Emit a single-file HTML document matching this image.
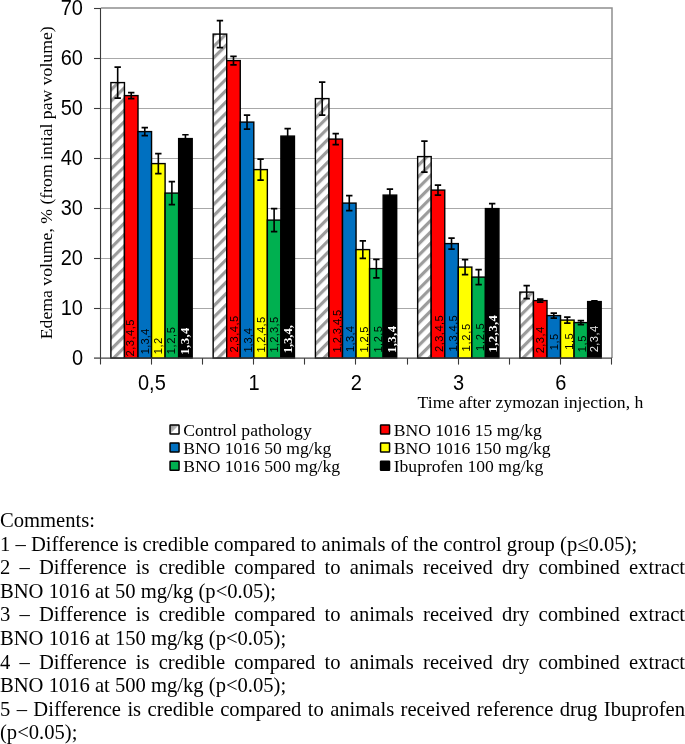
<!DOCTYPE html>
<html><head><meta charset="utf-8"><style>
html,body{margin:0;padding:0;background:#fff;}
body{width:685px;height:744px;position:relative;overflow:hidden;}
.ln{position:absolute;left:0;width:685px;font-family:"Liberation Serif",serif;font-size:20.6px;line-height:20px;height:20px;white-space:nowrap;color:#000;}
.ln.j{text-align:justify;text-align-last:justify;white-space:normal;}
.ln,svg{will-change:transform;}
</style></head><body>
<svg width="685" height="420" viewBox="0 0 685 420" style="position:absolute;left:0;top:0"><defs><pattern id="hatch0" patternUnits="userSpaceOnUse" width="7.98" height="7.98" patternTransform="translate(0,6.81) rotate(45)"><rect width="7.98" height="7.98" fill="#fff"/><rect x="0" y="0" width="3.2" height="7.98" fill="#9c9c9c"/></pattern><pattern id="hatch1" patternUnits="userSpaceOnUse" width="7.98" height="7.98" patternTransform="translate(0,9.64) rotate(45)"><rect width="7.98" height="7.98" fill="#fff"/><rect x="0" y="0" width="3.2" height="7.98" fill="#9c9c9c"/></pattern><pattern id="hatch2" patternUnits="userSpaceOnUse" width="7.98" height="7.98" patternTransform="translate(0,2.48) rotate(45)"><rect width="7.98" height="7.98" fill="#fff"/><rect x="0" y="0" width="3.2" height="7.98" fill="#9c9c9c"/></pattern><pattern id="hatch3" patternUnits="userSpaceOnUse" width="7.98" height="7.98" patternTransform="translate(0,5.91) rotate(45)"><rect width="7.98" height="7.98" fill="#fff"/><rect x="0" y="0" width="3.2" height="7.98" fill="#9c9c9c"/></pattern><pattern id="hatch4" patternUnits="userSpaceOnUse" width="7.98" height="7.98" patternTransform="translate(0,9.83) rotate(45)"><rect width="7.98" height="7.98" fill="#fff"/><rect x="0" y="0" width="3.2" height="7.98" fill="#9c9c9c"/></pattern></defs><line x1="100.75" y1="308.5" x2="612.0" y2="308.5" stroke="#a8a8a8" stroke-width="1"/><line x1="100.75" y1="258.5" x2="612.0" y2="258.5" stroke="#a8a8a8" stroke-width="1"/><line x1="100.75" y1="208.5" x2="612.0" y2="208.5" stroke="#a8a8a8" stroke-width="1"/><line x1="100.75" y1="158.5" x2="612.0" y2="158.5" stroke="#a8a8a8" stroke-width="1"/><line x1="100.75" y1="108.5" x2="612.0" y2="108.5" stroke="#a8a8a8" stroke-width="1"/><line x1="100.75" y1="58.5" x2="612.0" y2="58.5" stroke="#a8a8a8" stroke-width="1"/><path d="M100.75 8.1H612.0V358.1" stroke="#8f8f8f" stroke-width="1.5" fill="none"/><rect x="110.90" y="82.60" width="13.55" height="275.50" fill="url(#hatch0)" stroke="#000" stroke-width="1.4"/><rect x="124.45" y="95.60" width="13.55" height="262.50" fill="#ff0000" stroke="#000" stroke-width="1.4"/><rect x="138.00" y="131.60" width="13.55" height="226.50" fill="#0070c0" stroke="#000" stroke-width="1.4"/><rect x="151.55" y="163.60" width="13.55" height="194.50" fill="#ffff00" stroke="#000" stroke-width="1.4"/><rect x="165.10" y="193.10" width="13.55" height="165.00" fill="#00b050" stroke="#000" stroke-width="1.4"/><rect x="178.65" y="138.60" width="13.55" height="219.50" fill="#000000" stroke="#000" stroke-width="1.4"/><rect x="213.15" y="34.10" width="13.55" height="324.00" fill="url(#hatch1)" stroke="#000" stroke-width="1.4"/><rect x="226.70" y="60.60" width="13.55" height="297.50" fill="#ff0000" stroke="#000" stroke-width="1.4"/><rect x="240.25" y="122.10" width="13.55" height="236.00" fill="#0070c0" stroke="#000" stroke-width="1.4"/><rect x="253.80" y="169.60" width="13.55" height="188.50" fill="#ffff00" stroke="#000" stroke-width="1.4"/><rect x="267.35" y="220.10" width="13.55" height="138.00" fill="#00b050" stroke="#000" stroke-width="1.4"/><rect x="280.90" y="136.10" width="13.55" height="222.00" fill="#000000" stroke="#000" stroke-width="1.4"/><rect x="315.40" y="98.60" width="13.55" height="259.50" fill="url(#hatch2)" stroke="#000" stroke-width="1.4"/><rect x="328.95" y="139.10" width="13.55" height="219.00" fill="#ff0000" stroke="#000" stroke-width="1.4"/><rect x="342.50" y="203.10" width="13.55" height="155.00" fill="#0070c0" stroke="#000" stroke-width="1.4"/><rect x="356.05" y="249.60" width="13.55" height="108.50" fill="#ffff00" stroke="#000" stroke-width="1.4"/><rect x="369.60" y="268.60" width="13.55" height="89.50" fill="#00b050" stroke="#000" stroke-width="1.4"/><rect x="383.15" y="195.10" width="13.55" height="163.00" fill="#000000" stroke="#000" stroke-width="1.4"/><rect x="417.65" y="156.60" width="13.55" height="201.50" fill="url(#hatch3)" stroke="#000" stroke-width="1.4"/><rect x="431.20" y="190.10" width="13.55" height="168.00" fill="#ff0000" stroke="#000" stroke-width="1.4"/><rect x="444.75" y="243.60" width="13.55" height="114.50" fill="#0070c0" stroke="#000" stroke-width="1.4"/><rect x="458.30" y="267.10" width="13.55" height="91.00" fill="#ffff00" stroke="#000" stroke-width="1.4"/><rect x="471.85" y="277.10" width="13.55" height="81.00" fill="#00b050" stroke="#000" stroke-width="1.4"/><rect x="485.40" y="208.60" width="13.55" height="149.50" fill="#000000" stroke="#000" stroke-width="1.4"/><rect x="519.90" y="292.10" width="13.55" height="66.00" fill="url(#hatch4)" stroke="#000" stroke-width="1.4"/><rect x="533.45" y="300.60" width="13.55" height="57.50" fill="#ff0000" stroke="#000" stroke-width="1.4"/><rect x="547.00" y="315.60" width="13.55" height="42.50" fill="#0070c0" stroke="#000" stroke-width="1.4"/><rect x="560.55" y="320.10" width="13.55" height="38.00" fill="#ffff00" stroke="#000" stroke-width="1.4"/><rect x="574.10" y="322.60" width="13.55" height="35.50" fill="#00b050" stroke="#000" stroke-width="1.4"/><rect x="587.65" y="301.60" width="13.55" height="56.50" fill="#000000" stroke="#000" stroke-width="1.4"/><text transform="translate(133.80,356.40) rotate(-90)" font-family="Liberation Sans" font-weight="normal" font-size="11.2" letter-spacing="0.43" fill="#000">2,3,4,5</text><text transform="translate(148.60,354.20) rotate(-90)" font-family="Liberation Sans" font-weight="normal" font-size="11.2" letter-spacing="0.15" fill="#000">1,3,4</text><text transform="translate(161.80,354.20) rotate(-90)" font-family="Liberation Sans" font-weight="normal" font-size="11.2" letter-spacing="0.4" fill="#000">1,2</text><text transform="translate(174.90,354.20) rotate(-90)" font-family="Liberation Sans" font-weight="normal" font-size="11.2" letter-spacing="0.55" fill="#000">1,2,5</text><text transform="translate(189.10,354.70) rotate(-90)" font-family="Liberation Serif" font-weight="bold" font-size="12.7" letter-spacing="0.42" fill="#fff">1,3,4</text><text transform="translate(237.90,352.60) rotate(-90)" font-family="Liberation Sans" font-weight="normal" font-size="11.2" letter-spacing="0.43" fill="#000">2,3,4,5</text><text transform="translate(251.60,352.60) rotate(-90)" font-family="Liberation Sans" font-weight="normal" font-size="11.2" letter-spacing="-0.1" fill="#000">1,3,4</text><text transform="translate(265.30,352.60) rotate(-90)" font-family="Liberation Sans" font-weight="normal" font-size="11.2" letter-spacing="0.25" fill="#000">1,2,4,5</text><text transform="translate(277.90,352.60) rotate(-90)" font-family="Liberation Sans" font-weight="normal" font-size="11.2" letter-spacing="0.25" fill="#000">1,2,3,5</text><text transform="translate(292.10,353.20) rotate(-90)" font-family="Liberation Serif" font-weight="bold" font-size="12.7" letter-spacing="-0.1" fill="#fff">1,3,4,</text><text transform="translate(341.00,352.50) rotate(-90)" font-family="Liberation Sans" font-weight="normal" font-size="11.2" letter-spacing="-0.1" fill="#000">1,2,3,4,5</text><text transform="translate(353.60,352.00) rotate(-90)" font-family="Liberation Sans" font-weight="normal" font-size="11.2" letter-spacing="0.28" fill="#000">1,3,4</text><text transform="translate(367.80,352.50) rotate(-90)" font-family="Liberation Sans" font-weight="normal" font-size="11.2" letter-spacing="0.28" fill="#000">1,2,5</text><text transform="translate(382.10,352.50) rotate(-90)" font-family="Liberation Sans" font-weight="normal" font-size="11.2" letter-spacing="0.4" fill="#000">1,2,5</text><text transform="translate(395.80,353.10) rotate(-90)" font-family="Liberation Serif" font-weight="bold" font-size="12.7" letter-spacing="0.43" fill="#fff">1,3,4</text><text transform="translate(442.90,352.00) rotate(-90)" font-family="Liberation Sans" font-weight="normal" font-size="11.2" letter-spacing="0.43" fill="#000">2,3,4,5</text><text transform="translate(456.60,351.40) rotate(-90)" font-family="Liberation Sans" font-weight="normal" font-size="11.2" letter-spacing="0.33" fill="#000">1,3,4,5</text><text transform="translate(469.80,351.40) rotate(-90)" font-family="Liberation Sans" font-weight="normal" font-size="11.2" letter-spacing="0.67" fill="#000">1,2,5</text><text transform="translate(484.00,350.90) rotate(-90)" font-family="Liberation Sans" font-weight="normal" font-size="11.2" letter-spacing="0.67" fill="#000">1,2,5</text><text transform="translate(497.10,352.50) rotate(-90)" font-family="Liberation Serif" font-weight="bold" font-size="12.7" letter-spacing="0.42" fill="#fff">1,2,3,4</text><text transform="translate(544.10,353.30) rotate(-90)" font-family="Liberation Sans" font-weight="normal" font-size="11.2" letter-spacing="0.38" fill="#000">2,3,4</text><text transform="translate(558.40,350.20) rotate(-90)" font-family="Liberation Sans" font-weight="normal" font-size="11.2" letter-spacing="0.4" fill="#000">1,5</text><text transform="translate(572.70,349.70) rotate(-90)" font-family="Liberation Sans" font-weight="normal" font-size="11.2" letter-spacing="0.4" fill="#000">1,5</text><text transform="translate(586.00,352.30) rotate(-90)" font-family="Liberation Sans" font-weight="normal" font-size="11.2" letter-spacing="0.65" fill="#000">1,5</text><text transform="translate(597.70,352.30) rotate(-90)" font-family="Liberation Sans" font-weight="normal" font-size="11.2" letter-spacing="0.38" fill="#e8e8e8">2,3,4</text><path d="M117.68 67.10V98.10M114.48 67.10H120.88M114.48 98.10H120.88" stroke="#000" stroke-width="1.6" fill="none"/><path d="M131.22 92.60V98.60M128.03 92.60H134.42M128.03 98.60H134.42" stroke="#000" stroke-width="1.6" fill="none"/><path d="M144.78 127.60V135.60M141.58 127.60H147.97M141.58 135.60H147.97" stroke="#000" stroke-width="1.6" fill="none"/><path d="M158.33 153.60V173.60M155.13 153.60H161.53M155.13 173.60H161.53" stroke="#000" stroke-width="1.6" fill="none"/><path d="M171.88 181.60V204.60M168.68 181.60H175.08M168.68 204.60H175.08" stroke="#000" stroke-width="1.6" fill="none"/><path d="M185.43 134.80V142.40M182.23 134.80H188.62M182.23 142.40H188.62" stroke="#000" stroke-width="1.6" fill="none"/><path d="M219.93 20.60V47.60M216.73 20.60H223.12M216.73 47.60H223.12" stroke="#000" stroke-width="1.6" fill="none"/><path d="M233.48 56.35V64.85M230.28 56.35H236.68M230.28 64.85H236.68" stroke="#000" stroke-width="1.6" fill="none"/><path d="M247.03 115.10V129.10M243.83 115.10H250.22M243.83 129.10H250.22" stroke="#000" stroke-width="1.6" fill="none"/><path d="M260.57 159.10V180.10M257.38 159.10H263.77M257.38 180.10H263.77" stroke="#000" stroke-width="1.6" fill="none"/><path d="M274.12 208.60V231.60M270.93 208.60H277.32M270.93 231.60H277.32" stroke="#000" stroke-width="1.6" fill="none"/><path d="M287.67 128.60V143.60M284.47 128.60H290.87M284.47 143.60H290.87" stroke="#000" stroke-width="1.6" fill="none"/><path d="M322.17 82.10V115.10M318.97 82.10H325.37M318.97 115.10H325.37" stroke="#000" stroke-width="1.6" fill="none"/><path d="M335.72 133.60V144.60M332.52 133.60H338.92M332.52 144.60H338.92" stroke="#000" stroke-width="1.6" fill="none"/><path d="M349.27 195.60V210.60M346.07 195.60H352.47M346.07 210.60H352.47" stroke="#000" stroke-width="1.6" fill="none"/><path d="M362.82 240.85V258.35M359.62 240.85H366.02M359.62 258.35H366.02" stroke="#000" stroke-width="1.6" fill="none"/><path d="M376.37 259.35V277.85M373.17 259.35H379.57M373.17 277.85H379.57" stroke="#000" stroke-width="1.6" fill="none"/><path d="M389.92 189.10V201.10M386.72 189.10H393.12M386.72 201.10H393.12" stroke="#000" stroke-width="1.6" fill="none"/><path d="M424.42 141.10V172.10M421.22 141.10H427.62M421.22 172.10H427.62" stroke="#000" stroke-width="1.6" fill="none"/><path d="M437.97 185.10V195.10M434.77 185.10H441.17M434.77 195.10H441.17" stroke="#000" stroke-width="1.6" fill="none"/><path d="M451.52 238.10V249.10M448.32 238.10H454.72M448.32 249.10H454.72" stroke="#000" stroke-width="1.6" fill="none"/><path d="M465.07 259.60V274.60M461.87 259.60H468.27M461.87 274.60H468.27" stroke="#000" stroke-width="1.6" fill="none"/><path d="M478.62 269.60V284.60M475.42 269.60H481.82M475.42 284.60H481.82" stroke="#000" stroke-width="1.6" fill="none"/><path d="M492.17 203.60V213.60M488.97 203.60H495.37M488.97 213.60H495.37" stroke="#000" stroke-width="1.6" fill="none"/><path d="M526.67 285.60V298.60M523.47 285.60H529.88M523.47 298.60H529.88" stroke="#000" stroke-width="1.6" fill="none"/><path d="M540.22 299.10V302.10M537.02 299.10H543.42M537.02 302.10H543.42" stroke="#000" stroke-width="1.6" fill="none"/><path d="M553.77 313.10V318.10M550.57 313.10H556.98M550.57 318.10H556.98" stroke="#000" stroke-width="1.6" fill="none"/><path d="M567.32 317.10V323.10M564.12 317.10H570.52M564.12 323.10H570.52" stroke="#000" stroke-width="1.6" fill="none"/><path d="M580.88 320.60V324.60M577.67 320.60H584.08M577.67 324.60H584.08" stroke="#000" stroke-width="1.6" fill="none"/><path d="M594.42 300.85V302.35M591.22 300.85H597.62M591.22 302.35H597.62" stroke="#000" stroke-width="1.6" fill="none"/><line x1="100.5" y1="8.1" x2="100.5" y2="364.6" stroke="#3a3a3a" stroke-width="1.1"/><line x1="100" y1="358.1" x2="612.0" y2="358.1" stroke="#454545" stroke-width="1.3"/><line x1="94" y1="358.1" x2="100.5" y2="358.1" stroke="#454545" stroke-width="1.3"/><line x1="94" y1="308.5" x2="100.5" y2="308.5" stroke="#3a3a3a" stroke-width="1.1"/><line x1="94" y1="258.5" x2="100.5" y2="258.5" stroke="#3a3a3a" stroke-width="1.1"/><line x1="94" y1="208.5" x2="100.5" y2="208.5" stroke="#3a3a3a" stroke-width="1.1"/><line x1="94" y1="158.5" x2="100.5" y2="158.5" stroke="#3a3a3a" stroke-width="1.1"/><line x1="94" y1="108.5" x2="100.5" y2="108.5" stroke="#3a3a3a" stroke-width="1.1"/><line x1="94" y1="58.5" x2="100.5" y2="58.5" stroke="#3a3a3a" stroke-width="1.1"/><line x1="94" y1="8.5" x2="100.5" y2="8.5" stroke="#3a3a3a" stroke-width="1.1"/><line x1="151.50" y1="358.1" x2="151.50" y2="364.6" stroke="#3a3a3a" stroke-width="1.1"/><line x1="202.50" y1="358.1" x2="202.50" y2="364.6" stroke="#3a3a3a" stroke-width="1.1"/><line x1="253.50" y1="358.1" x2="253.50" y2="364.6" stroke="#3a3a3a" stroke-width="1.1"/><line x1="304.50" y1="358.1" x2="304.50" y2="364.6" stroke="#3a3a3a" stroke-width="1.1"/><line x1="355.50" y1="358.1" x2="355.50" y2="364.6" stroke="#3a3a3a" stroke-width="1.1"/><line x1="407.50" y1="358.1" x2="407.50" y2="364.6" stroke="#3a3a3a" stroke-width="1.1"/><line x1="458.50" y1="358.1" x2="458.50" y2="364.6" stroke="#3a3a3a" stroke-width="1.1"/><line x1="509.50" y1="358.1" x2="509.50" y2="364.6" stroke="#3a3a3a" stroke-width="1.1"/><line x1="560.50" y1="358.1" x2="560.50" y2="364.6" stroke="#3a3a3a" stroke-width="1.1"/><line x1="611.50" y1="358.1" x2="611.50" y2="364.6" stroke="#3a3a3a" stroke-width="1.1"/><text transform="translate(83,365.30) scale(1,1.075)" text-anchor="end" font-family="Liberation Sans" font-size="20" fill="#000">0</text><text transform="translate(83,315.30) scale(1,1.075)" text-anchor="end" font-family="Liberation Sans" font-size="20" fill="#000">10</text><text transform="translate(83,265.30) scale(1,1.075)" text-anchor="end" font-family="Liberation Sans" font-size="20" fill="#000">20</text><text transform="translate(83,215.30) scale(1,1.075)" text-anchor="end" font-family="Liberation Sans" font-size="20" fill="#000">30</text><text transform="translate(83,165.30) scale(1,1.075)" text-anchor="end" font-family="Liberation Sans" font-size="20" fill="#000">40</text><text transform="translate(83,115.30) scale(1,1.075)" text-anchor="end" font-family="Liberation Sans" font-size="20" fill="#000">50</text><text transform="translate(83,65.30) scale(1,1.075)" text-anchor="end" font-family="Liberation Sans" font-size="20" fill="#000">60</text><text transform="translate(83,15.30) scale(1,1.075)" text-anchor="end" font-family="Liberation Sans" font-size="20" fill="#000">70</text><text transform="translate(151.88,389.5) scale(1,1.075)" text-anchor="middle" font-family="Liberation Sans" font-size="20" fill="#000">0,5</text><text transform="translate(254.12,389.5) scale(1,1.075)" text-anchor="middle" font-family="Liberation Sans" font-size="20" fill="#000">1</text><text transform="translate(356.38,389.5) scale(1,1.075)" text-anchor="middle" font-family="Liberation Sans" font-size="20" fill="#000">2</text><text transform="translate(458.62,389.5) scale(1,1.075)" text-anchor="middle" font-family="Liberation Sans" font-size="20" fill="#000">3</text><text transform="translate(560.88,389.5) scale(1,1.075)" text-anchor="middle" font-family="Liberation Sans" font-size="20" fill="#000">6</text><text transform="translate(52,339.2) rotate(-90)" font-family="Liberation Serif" font-size="17.7" fill="#000">Edema volume, % (from intial paw volume)</text><text x="417.6" y="408" font-family="Liberation Serif" font-size="17.7" fill="#000">Time after zymozan injection, h</text></svg>
<svg width="685" height="100" viewBox="0 410 685 100" style="position:absolute;left:0;top:410px"><defs><linearGradient id="lg" x1="0" y1="0" x2="1" y2="1"><stop offset="0" stop-color="#b0b0b0"/><stop offset="0.2" stop-color="#a0a0a0"/><stop offset="0.45" stop-color="#b8b8b8"/><stop offset="0.55" stop-color="#fff"/><stop offset="1" stop-color="#fff"/></linearGradient></defs><rect x="170.05" y="424.95" width="9.0" height="9.0" rx="0.5" fill="url(#lg)" stroke="#000" stroke-width="1.5"/><text x="183.20" y="435.60" font-family="Liberation Serif" font-size="17.6" fill="#000">Control pathology</text><rect x="170.05" y="443.05" width="9.0" height="9.0" rx="0.5" fill="#0070c0" stroke="#000" stroke-width="1.5"/><text x="183.20" y="453.65" font-family="Liberation Serif" font-size="17.6" fill="#000">BNO 1016 50 mg/kg</text><rect x="170.05" y="461.15" width="9.0" height="9.0" rx="0.5" fill="#00b050" stroke="#000" stroke-width="1.5"/><text x="183.20" y="471.70" font-family="Liberation Serif" font-size="17.6" fill="#000">BNO 1016 500 mg/kg</text><rect x="380.55" y="424.95" width="9.0" height="9.0" rx="0.5" fill="#ff0000" stroke="#000" stroke-width="1.5"/><text x="393.70" y="435.60" font-family="Liberation Serif" font-size="17.6" fill="#000">BNO 1016 15 mg/kg</text><rect x="380.55" y="443.05" width="9.0" height="9.0" rx="0.5" fill="#ffff00" stroke="#000" stroke-width="1.5"/><text x="393.70" y="453.65" font-family="Liberation Serif" font-size="17.6" fill="#000">BNO 1016 150 mg/kg</text><rect x="380.55" y="461.15" width="9.0" height="9.0" rx="0.5" fill="#000000" stroke="#000" stroke-width="1.5"/><text x="393.70" y="471.70" font-family="Liberation Serif" font-size="17.6" fill="#000">Ibuprofen 100 mg/kg</text></svg>
<div class="ln" style="top:510.00px;">Comments:</div><div class="ln" style="top:533.60px;">1 – Difference is credible compared to animals of the control group (p≤0.05);</div><div class="ln j" style="top:557.20px;">2 – Difference is credible compared to animals received dry combined extract</div><div class="ln" style="top:580.80px;">BNO 1016 at 50 mg/kg (p&lt;0.05);</div><div class="ln j" style="top:604.40px;">3 – Difference is credible compared to animals received dry combined extract</div><div class="ln" style="top:628.00px;">BNO 1016 at 150 mg/kg (p&lt;0.05);</div><div class="ln j" style="top:651.60px;">4 – Difference is credible compared to animals received dry combined extract</div><div class="ln" style="top:675.20px;">BNO 1016 at 500 mg/kg (p&lt;0.05);</div><div class="ln j" style="top:698.80px;">5 – Difference is credible compared to animals received reference drug Ibuprofen</div><div class="ln" style="top:722.40px;">(p&lt;0.05);</div>
</body></html>
